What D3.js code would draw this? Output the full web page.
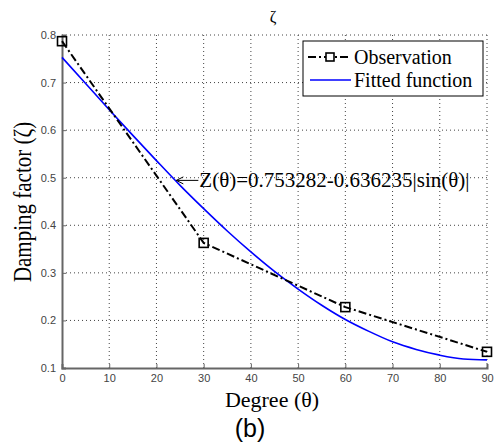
<!DOCTYPE html>
<html>
<head>
<meta charset="utf-8">
<script src="https://cdn.jsdelivr.net/npm/d3@7"></script>
<style>
  body { margin: 0; background: #fff; }
  svg { display: block; }
</style>
</head>
<body>
<div id="chart"></div>
<script>
let w = 494;
let h = 446;

// observation points (degree, damping factor)
let obsDeg = [0, 30, 60, 90];
let obsVal = [0.787, 0.363, 0.228, 0.134];

// fitted curve every 5 degrees
let fitDeg = [0, 5, 10, 15, 20, 25, 30, 35, 40, 45, 50, 55, 60, 65, 70, 75, 80, 85, 90];
let fitVal = [0.753, 0.698, 0.643, 0.589, 0.536, 0.484, 0.435, 0.388, 0.344, 0.303,
              0.266, 0.232, 0.202, 0.177, 0.155, 0.139, 0.127, 0.119, 0.117];

let xTicks = [0, 10, 20, 30, 40, 50, 60, 70, 80, 90];
let yTicks = [0.1, 0.2, 0.3, 0.4, 0.5, 0.6, 0.7, 0.8];

let serif = "'Liberation Serif', 'Times New Roman', serif";
let sans = "'Liberation Sans', Arial, sans-serif";

let viz = d3.select("#chart")
  .append("svg")
    .attr("width", w)
    .attr("height", h);

let plotL = 62, plotR = 487, plotT = 35, plotB = 368;

let x = d3.scaleLinear().domain([0, 90]).range([plotL, plotR]);
let y = d3.scaleLinear().domain([0.1, 0.8]).range([plotB, plotT]);

///////////////////////////////////////////////////////////////////////
// GRID (dotted)
viz.append("g").selectAll("line").data(xTicks.slice(1))
  .enter().append("line")
    .attr("x1", d => x(d)).attr("x2", d => x(d))
    .attr("y1", plotT).attr("y2", plotB)
    .attr("stroke", "#444").attr("stroke-width", 1)
    .attr("stroke-dasharray", "1,3");

viz.append("g").selectAll("line").data(yTicks.slice(1))
  .enter().append("line")
    .attr("x1", plotL).attr("x2", plotR)
    .attr("y1", d => y(d)).attr("y2", d => y(d))
    .attr("stroke", "#444").attr("stroke-width", 1)
    .attr("stroke-dasharray", "1,3");

///////////////////////////////////////////////////////////////////////
// AXES
let xAxis = viz.append("g")
  .attr("transform", "translate(0," + plotB + ")")
  .call(d3.axisBottom(x).tickValues(xTicks).tickSize(-4).tickPadding(6));

let yAxis = viz.append("g")
  .attr("transform", "translate(" + plotL + ",0)")
  .call(d3.axisLeft(y).tickValues(yTicks).tickSize(-4).tickPadding(6).tickFormat(d3.format(".1f")));

[xAxis, yAxis].forEach(function(a) {
  a.select(".domain").attr("stroke", "#666").attr("stroke-width", 2);
  a.selectAll(".tick line").attr("stroke", "#666");
  a.selectAll(".tick text")
    .attr("fill", "#444")
    .style("font-family", sans)
    .style("font-size", "11px");
});

///////////////////////////////////////////////////////////////////////
// FITTED FUNCTION
let fitData = fitDeg.map((d, i) => ({deg: d, val: fitVal[i]}));
viz.append("path")
  .datum(fitData)
  .attr("fill", "none")
  .attr("stroke", "#0000ff")
  .attr("stroke-width", 1.6)
  .attr("d", d3.line().x(d => x(d.deg)).y(d => y(d.val)).curve(d3.curveMonotoneX));

///////////////////////////////////////////////////////////////////////
// OBSERVATION
let obsData = obsDeg.map((d, i) => ({deg: d, val: obsVal[i]}));
viz.append("path")
  .datum(obsData)
  .attr("fill", "none")
  .attr("stroke", "#000")
  .attr("stroke-width", 2)
  .attr("stroke-dasharray", "8,3,2,3")
  .attr("d", d3.line().x(d => x(d.deg)).y(d => y(d.val)));

viz.append("g").selectAll("rect").data(obsData)
  .enter().append("rect")
    .attr("x", d => x(d.deg) - 4.5)
    .attr("y", d => y(d.val) - 4.5)
    .attr("width", 9).attr("height", 9)
    .attr("fill", "none")
    .attr("stroke", "#000")
    .attr("stroke-width", 1.6);

///////////////////////////////////////////////////////////////////////
// ANNOTATION
let annDeg = 24;
let annX = x(annDeg);
let annY = y(fitVal[5] + (fitVal[4] - fitVal[5]) * 0.2);
viz.append("line")
  .attr("x1", annX + 1).attr("x2", annX + 23)
  .attr("y1", annY).attr("y2", annY)
  .attr("stroke", "#000").attr("stroke-width", 1);
viz.append("path")
  .attr("d", "M" + (annX + 1) + "," + annY + " l7,-3.5 M" + (annX + 1) + "," + annY + " l7,3.5")
  .attr("stroke", "#000").attr("stroke-width", 1).attr("fill", "none");
viz.append("text")
  .attr("x", annX + 24).attr("y", annY + 7)
  .style("font-family", serif).style("font-size", "21px")
  .text("Z(θ)=0.753282-0.636235|sin(θ)|");

///////////////////////////////////////////////////////////////////////
// LEGEND
let lg = viz.append("g").attr("transform", "translate(303,41)");
lg.append("rect")
  .attr("width", 180).attr("height", 55)
  .attr("fill", "#fff").attr("stroke", "#000").attr("stroke-width", 1);
lg.append("line")
  .attr("x1", 5).attr("x2", 48).attr("y1", 16).attr("y2", 16)
  .attr("stroke", "#000").attr("stroke-width", 2).attr("stroke-dasharray", "8,3,2,3");
lg.append("rect")
  .attr("x", 23).attr("y", 12).attr("width", 8).attr("height", 8)
  .attr("fill", "#fff").attr("stroke", "#000").attr("stroke-width", 1.6);
lg.append("text")
  .attr("x", 51).attr("y", 23)
  .style("font-family", serif).style("font-size", "20px")
  .text("Observation");
lg.append("line")
  .attr("x1", 7).attr("x2", 48).attr("y1", 39).attr("y2", 39)
  .attr("stroke", "#0000ff").attr("stroke-width", 1.6);
lg.append("text")
  .attr("x", 51).attr("y", 46)
  .style("font-family", serif).style("font-size", "20px")
  .text("Fitted function");

///////////////////////////////////////////////////////////////////////
// TITLES
viz.append("text")
  .attr("x", 273).attr("y", 22)
  .attr("text-anchor", "middle")
  .style("font-family", serif).style("font-size", "16px")
  .text("ζ");

// y label is drawn a bit narrow along its length, as in the picture
viz.append("text")
  .attr("transform", "translate(31,202) rotate(-90) scale(0.84,1)")
  .attr("text-anchor", "middle")
  .style("font-family", serif).style("font-size", "25px")
  .text("Damping factor (ζ)");

viz.append("text")
  .attr("x", 272).attr("y", 407)
  .attr("text-anchor", "middle")
  .style("font-family", serif).style("font-size", "22px")
  .text("Degree (θ)");

viz.append("text")
  .attr("x", 250).attr("y", 437)
  .attr("text-anchor", "middle")
  .style("font-family", sans).style("font-size", "25px")
  .text("(b)");
</script>
</body>
</html>
